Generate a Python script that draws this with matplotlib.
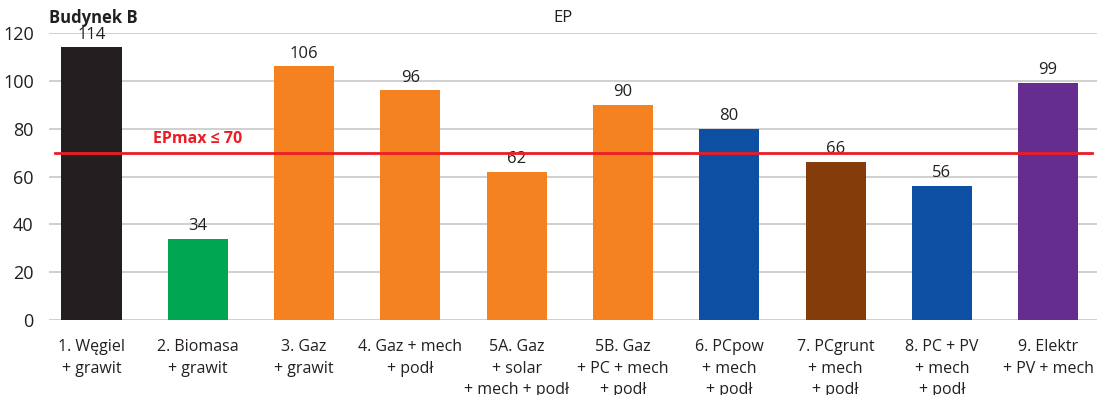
import matplotlib
matplotlib.use("Agg")
import matplotlib.pyplot as plt

categories = ["1. Węgiel\n+ grawit", "2. Biomasa\n+ grawit", "3. Gaz\n+ grawit",
              "4. Gaz + mech\n+ podł", "5A. Gaz\n+ solar\n+ mech + podł",
              "5B. Gaz\n+ PC + mech\n+ podł", "6. PCpow\n+ mech\n+ podł",
              "7. PCgrunt\n+ mech\n+ podł", "8. PC + PV\n+ mech\n+ podł",
              "9. Elektr\n+ PV + mech"]
values = [114, 34, 106, 96, 62, 90, 80, 66, 56, 99]
colors = ["#231f20", "#00a651", "#f58220", "#f58220", "#f58220", "#f58220",
          "#0d4fa2", "#843c0b", "#0d4fa2", "#662d91"]
ep_max = 70
yticks = [0, 20, 40, 60, 80, 100, 120]

plt.rcParams['font.family'] = ['Open Sans', 'DejaVu Sans']
fig = plt.figure(figsize=(10.97, 3.95), dpi=100)
ax = fig.add_axes([49/1097, 1 - 320/395, 1 - 49/1097, (320-33)/395])

x = list(range(len(values)))
bars = ax.bar(x, values, width=0.565, color=colors, zorder=3)
for xi, v in zip(x, values):
    ax.text(xi, v + 2.0, str(v), ha='center', va='bottom', fontsize=12, color='#231f20', zorder=4)

ax.axhline(ep_max, xmin=0.006, xmax=0.995, color='#ed1c24', lw=2, zorder=5)
ax.text(0.58, ep_max + 2.5, "EPmax ≤ 70", color='#ed1c24', fontsize=11.5, fontweight='bold',
        ha='left', va='bottom', zorder=5)

ax.set_xlim(-0.4, 9.46)
ax.set_ylim(0, 120)
ax.set_yticks(yticks)
ax.set_yticklabels([str(t) for t in yticks], fontsize=13, color='#231f20')
ax.set_xticks(x)
ax.set_xticklabels(categories, fontsize=11.5, color='#231f20', linespacing=1.45, va='top')
ax.tick_params(axis='x', length=0, pad=14)
ax.tick_params(axis='y', length=0, pad=11)
ax.grid(axis='y', color='#c8c8c8', lw=1.2, zorder=0)
for s in ax.spines.values():
    s.set_visible(False)

fig.text(49/1097, 1 - 18/395, "Budynek B", fontsize=12, fontweight='bold', ha='left', va='center', color='#231f20')
fig.text(563/1097, 1 - 18/395, "EP", fontsize=12, ha='center', va='center', color='#231f20')

fig.savefig("out.png", dpi=100)
